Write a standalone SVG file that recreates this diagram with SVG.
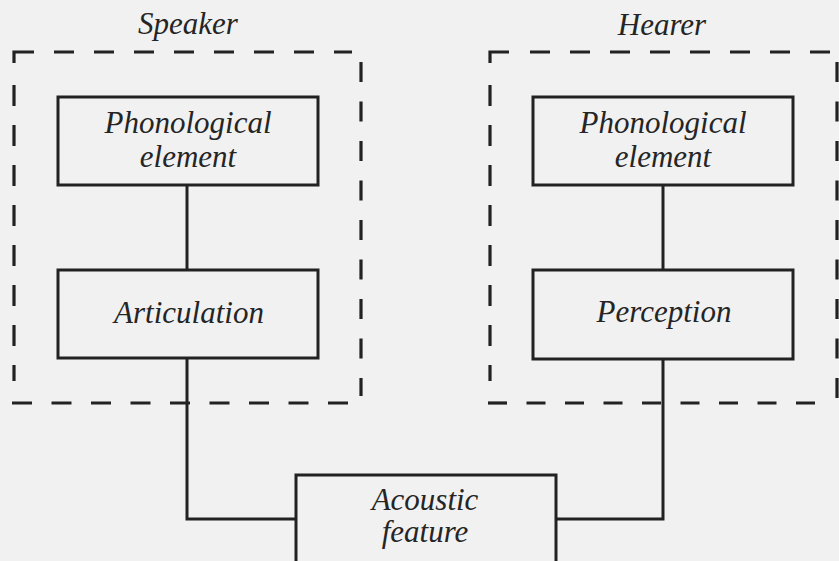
<svg xmlns="http://www.w3.org/2000/svg" width="839" height="561" viewBox="0 0 839 561">
<style>
.bg{fill:#f1f1f1}
.box{fill:none;stroke:#222;stroke-width:3}
.dash{fill:none;stroke:#222;stroke-width:3.2}
.conn{fill:none;stroke:#222;stroke-width:3}
text{font-family:"Liberation Serif","Times New Roman",serif;font-style:italic;font-size:31px;fill:#252525;text-anchor:middle}
</style>
<rect class="bg" x="0" y="0" width="839" height="561"/>
<g id="speaker-group">
<path class="dash" d="M14,63 V52 H34"/>
<path class="dash" d="M54,52 H352" stroke-dasharray="20 20"/>
<path class="dash" d="M14,85 V381" stroke-dasharray="21 19"/>
<path class="dash" d="M361,62 V396" stroke-dasharray="20 19.5"/>
<path class="dash" d="M12,403 H349" stroke-dasharray="20 19.5"/>
<text x="188" y="34">Speaker</text>
</g>
<g id="hearer-group">
<path class="dash" d="M490,63 V52 H509"/>
<path class="dash" d="M530,52 H832" stroke-dasharray="20 20"/>
<path class="dash" d="M490,85 V381" stroke-dasharray="21 19"/>
<path class="dash" d="M837,62 V398" stroke-dasharray="20 19.5"/>
<path class="dash" d="M488,403 H826" stroke-dasharray="19 19.5"/>
<text x="662" y="35">Hearer</text>
</g>
<g id="connectors">
<path class="conn" d="M187,185 V270"/>
<path class="conn" d="M187,358 V519 H296"/>
<path class="conn" d="M663,185 V270"/>
<path class="conn" d="M663,359 V519 H556"/>
</g>
<g id="speaker-phonological">
<rect class="box" x="58" y="97" width="260" height="88"/>
<text x="188" y="133">Phonological</text>
<text x="188" y="167">element</text>
</g>
<g id="articulation">
<rect class="box" x="58" y="270" width="260" height="88"/>
<text x="189" y="323">Articulation</text>
</g>
<g id="hearer-phonological">
<rect class="box" x="533" y="97" width="260" height="88"/>
<text x="663" y="133">Phonological</text>
<text x="663" y="167">element</text>
</g>
<g id="perception">
<rect class="box" x="533" y="270" width="260" height="89"/>
<text x="664" y="322">Perception</text>
</g>
<g id="acoustic-feature">
<rect class="box" x="296" y="475" width="260" height="95"/>
<text x="425" y="510">Acoustic</text>
<text x="425" y="542">feature</text>
</g>
</svg>
